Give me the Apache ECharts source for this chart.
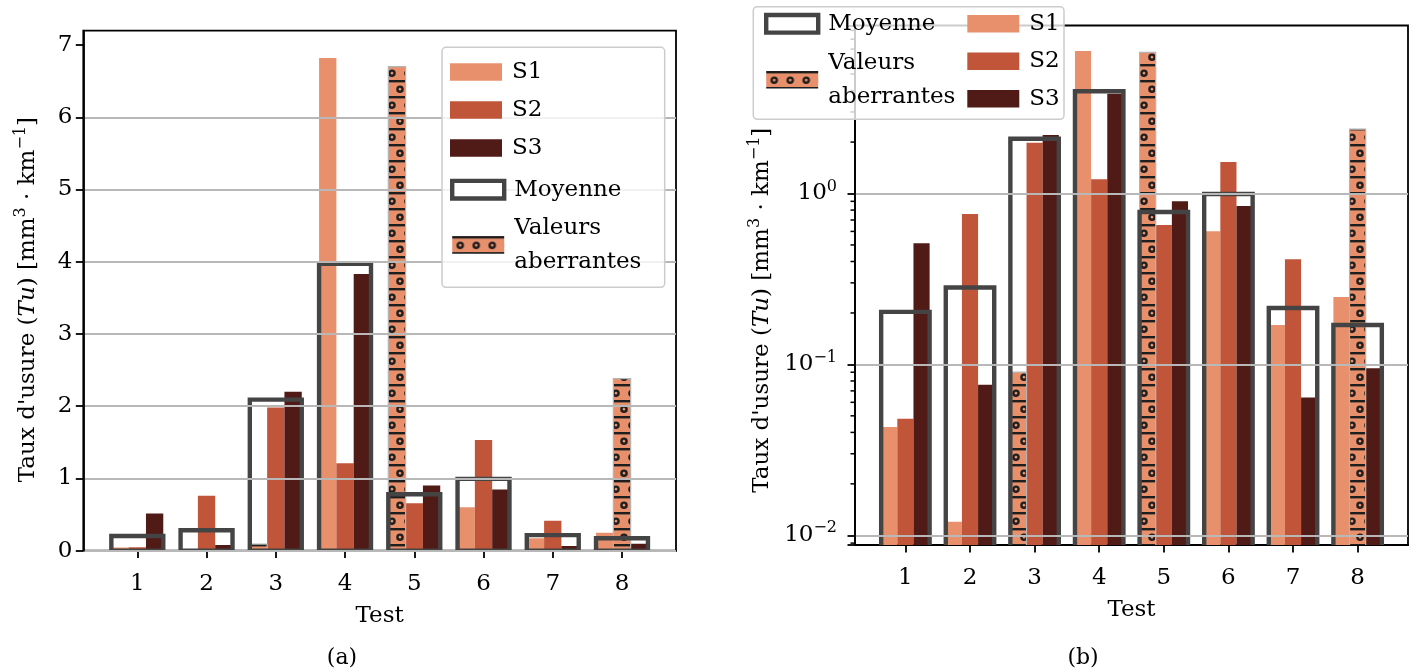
<!DOCTYPE html>
<html>
<head>
<meta charset="utf-8">
<script src="https://cdn.jsdelivr.net/npm/echarts@6/dist/echarts.min.js"></script>
<style>html,body{margin:0;padding:0;background:#fff}#c{width:1416px;height:671px}</style>
</head>
<body>
<div id="c"></div>
<script>
// ---------------- data ----------------
const tests = [1, 2, 3, 4, 5, 6, 7, 8];
const xTickLabels = ['1', '2', '3', '4', '5', '6', '7', '8'];
const linearTicks = [0, 1, 2, 3, 4, 5, 6, 7];
const logMinorTicks = [0.009, 0.02, 0.03, 0.04, 0.05, 0.06, 0.07, 0.08, 0.09,
                       0.2, 0.3, 0.4, 0.5, 0.6, 0.7, 0.8, 0.9,
                       2, 3, 4, 5, 6, 7, 8, 9];
const S1 = [0.043, 0.012, 0.090, 6.82, 6.70, 0.601, 0.170, 0.248];
const S2 = [0.048, 0.760, 1.98, 1.21, 0.655, 1.53, 0.413, 2.38];
const S3 = [0.512, 0.076, 2.20, 3.83, 0.900, 0.845, 0.064, 0.095];
const moyenne = [0.203, 0.282, 2.09, 3.97, 0.780, 0.993, 0.214, 0.170];
const outlierS1 = [false, false, true, false, true, false, false, false];
const outlierS2 = [false, false, false, false, false, false, false, true];
const outlierS3 = [false, false, false, false, false, false, false, false];

// ---------------- style / layout ----------------
const FONT = 'DejaVu Serif';
const FS = 23;
const COL = {S1: '#E8906C', S2: '#C0553A', S3: '#501A16', moy: '#444444', grid: '#b8b8b8'};
const BAR_W = 0.25;
const X_MIN = 0.22, X_MAX = 8.78;
const LIN_MAX = 7.2;
const LOG_MIN = 0.008773, LOG_MAX = 9.62;

function makeHatch() {
  const w = 16, h = 32;
  const c = document.createElement('canvas');
  c.width = w; c.height = h;
  const g = c.getContext('2d');
  g.fillStyle = COL.S1; g.fillRect(0, 0, w, h);
  g.fillStyle = '#1e1e1e';
  g.fillRect(0, 0, w, 2.4); g.fillRect(0, 16, w, 2.4);
  g.strokeStyle = '#1e1e1e'; g.lineWidth = 2.4;
  const ring = (x, y) => { g.beginPath(); g.arc(x, y, 2.6, 0, Math.PI * 2); g.stroke(); };
  ring(8, 9.2); ring(0, 25.2); ring(16, 25.2);
  return c;
}
const hatch = {image: makeHatch(), repeat: 'repeat'};

const sets = [
  {name: 'S1', vals: S1, out: outlierS1, k: 0, color: COL.S1},
  {name: 'S2', vals: S2, out: outlierS2, k: 1, color: COL.S2},
  {name: 'S3', vals: S3, out: outlierS3, k: 2, color: COL.S3}
];

function barItem(base, styleFn, extra) {
  return function (params, api) {
    const x = api.value(0), v = api.value(1), k = api.value(2);
    const cx = x + (k - 1) * BAR_W;
    const p0 = api.coord([cx - BAR_W / 2, v]);
    const p1 = api.coord([cx + BAR_W / 2, base]);
    return {type: 'rect', shape: {x: p0[0], y: p0[1], width: p1[0] - p0[0], height: p1[1] - p0[1] + (extra || 0)},
            style: styleFn(api)};
  };
}
function boxItem(base, extra) {
  return function (params, api) {
    const x = api.value(0), v = api.value(1);
    const p0 = api.coord([x - 1.5 * BAR_W, v]);
    const p1 = api.coord([x + 1.5 * BAR_W, base]);
    return {type: 'rect', shape: {x: p0[0], y: p0[1], width: p1[0] - p0[0], height: p1[1] - p0[1] + extra},
            style: {fill: 'rgba(0,0,0,0)', stroke: COL.moy, lineWidth: 4.4}};
  };
}

function seriesFor(g, base, extra) {
  const out = [];
  sets.forEach(s => {
    out.push({
      type: 'custom', name: s.name, xAxisIndex: g, yAxisIndex: g, clip: true, silent: true,
      itemStyle: {color: s.color},
      data: tests.map((t, i) => [t, s.vals[i], s.k]).filter((d, i) => !s.out[i]),
      renderItem: barItem(base, () => ({fill: s.color}), extra)
    });
  });
  const outData = [];
  sets.forEach(s => tests.forEach((t, i) => { if (s.out[i]) outData.push([t, s.vals[i], s.k]); }));
  out.push({
    type: 'custom', name: 'Valeurs aberrantes', xAxisIndex: g, yAxisIndex: g, clip: true, silent: true,
    itemStyle: {color: COL.S1},
    data: outData,
    renderItem: barItem(base, () => ({fill: hatch, stroke: '#b4b4b4', lineWidth: 1.2}), extra)
  });
  out.push({
    type: 'custom', name: 'Moyenne', xAxisIndex: g, yAxisIndex: g, clip: true, silent: true,
    itemStyle: {color: '#ffffff', borderColor: COL.moy},
    data: tests.map((t, i) => [t, moyenne[i]]),
    renderItem: boxItem(base, extra)
  });
  return out;
}

const txt = {fontFamily: FONT, fontSize: FS, color: '#000'};
const yName = "Taux d'usure ({i|Tu}) [mm{s|3} · km{s|−1}]";
const nameRich = {
  i: {fontFamily: FONT, fontSize: FS, fontStyle: 'italic', lineHeight: 30},
  s: {fontFamily: FONT, fontSize: 16, verticalAlign: 'top', lineHeight: 16}
};
const axLine = {show: true, onZero: false, lineStyle: {color: '#000', width: 1.8}};

function xAxisFor(g) {
  return {
    gridIndex: g, type: 'value', min: X_MIN, max: X_MAX, z: 1,
    name: 'Test', nameLocation: 'middle', nameGap: 54, nameTextStyle: txt,
    axisLine: axLine,
    axisTick: {show: true, length: 7.5, customValues: tests, lineStyle: {color: '#000', width: 1.8}},
    axisLabel: {customValues: tests, margin: 22, formatter: v => xTickLabels[tests.indexOf(v)], ...txt},
    splitLine: {show: false}
  };
}

const legendText = {...txt, lineHeight: 34, padding: [0, 0, 0, 5]};
const legItems = {
  S1: {name: 'S1', icon: 'rect', itemStyle: {color: COL.S1, borderWidth: 0}},
  S2: {name: 'S2', icon: 'rect', itemStyle: {color: COL.S2, borderWidth: 0}},
  S3: {name: 'S3', icon: 'rect', itemStyle: {color: COL.S3, borderWidth: 0}},
  Moy: {name: 'Moyenne', icon: 'rect', itemStyle: {color: '#ffffff', borderColor: COL.moy, borderWidth: 4.4}},
  Out: {name: 'Valeurs aberrantes', icon: 'rect', itemStyle: {color: hatch, borderWidth: 0}}
};
function legend(left, top, gap, items) {
  return {
    left: left, top: top, orient: 'vertical', padding: 0, itemGap: gap, itemWidth: 52, itemHeight: 17.6,
    z: 6, selectedMode: false, textStyle: legendText,
    formatter: n => n === 'Valeurs aberrantes' ? 'Valeurs\naberrantes' : n,
    data: items
  };
}

const option = {
  animation: false,
  backgroundColor: '#ffffff',
  textStyle: {fontFamily: FONT},
  grid: [
    {left: 83.3, top: 30.6, width: 592.7, height: 520, show: true, borderColor: '#000', borderWidth: 1.8, backgroundColor: 'rgba(0,0,0,0)'},
    {left: 855, top: 25.5, width: 553, height: 519.5, show: true, borderColor: '#000', borderWidth: 1.8, backgroundColor: 'rgba(0,0,0,0)'}
  ],
  xAxis: [xAxisFor(0), xAxisFor(1)],
  yAxis: [
    {
      gridIndex: 0, type: 'value', min: 0, max: LIN_MAX, interval: 1, z: 3,
      name: yName, nameLocation: 'middle', nameGap: 40, nameRotate: 90,
      nameTextStyle: {...txt, lineHeight: 30, padding: [0, 18, 0, 0], rich: nameRich},
      axisLine: axLine,
      axisTick: {show: true, length: 7.5, customValues: linearTicks, lineStyle: {color: '#000', width: 1.8}},
      axisLabel: {customValues: linearTicks, margin: 11, ...txt},
      splitLine: {show: true, showMinLine: true, showMaxLine: false, lineStyle: {color: COL.grid, width: 1.8}}
    },
    {
      gridIndex: 1, type: 'log', logBase: 10, min: LOG_MIN, max: LOG_MAX, z: 3,
      name: yName, nameLocation: 'middle', nameGap: 78, nameRotate: 90,
      nameTextStyle: {...txt, lineHeight: 30, padding: [0, 50, 0, 0], rich: nameRich},
      axisLine: axLine,
      axisTick: {show: true, length: 7.5, lineStyle: {color: '#000', width: 1.8}},
      axisLabel: {
        margin: 18, ...txt, lineHeight: 30,
        formatter: v => {
          const e = Math.log10(v), r = Math.round(e);
          if (Math.abs(e - r) > 1e-6) return '';
          return '10{s|' + (r < 0 ? '−' + (-r) : r) + '}';
        },
        rich: {s: {fontFamily: FONT, fontSize: 16, verticalAlign: 'top', lineHeight: 16}}
      },
      splitLine: {show: true, showMinLine: false, showMaxLine: false, lineStyle: {color: COL.grid, width: 1.8}}
    }
  ],
  legend: [
    legend(450, 55, 4, [legItems.S1, legItems.S2, legItems.S3]),
    legend(450, 172.7, 4.2, [legItems.Moy, legItems.Out]),
    legend(764, 6.8, 5, [legItems.Moy, legItems.Out]),
    legend(967.3, 6.8, 3.5, [legItems.S1, legItems.S2, legItems.S3])
  ],
  graphic: [
    {type: 'rect', z: 5, shape: {x: 442, y: 47.3, width: 222.7, height: 240, r: 4},
     style: {fill: 'rgba(255,255,255,0.8)', stroke: '#cccccc', lineWidth: 1.5}},
    {type: 'rect', z: 5, shape: {x: 753.3, y: 6.7, width: 310.7, height: 112.6, r: 4},
     style: {fill: 'rgba(255,255,255,0.8)', stroke: '#cccccc', lineWidth: 1.5}},
    {type: 'text', z: 5, x: 342, y: 658, style: {text: '(a)', font: '22px "DejaVu Serif"', fill: '#000', align: 'center', verticalAlign: 'middle'}},
    {type: 'text', z: 5, x: 1083, y: 658, style: {text: '(b)', font: '22px "DejaVu Serif"', fill: '#000', align: 'center', verticalAlign: 'middle'}}
  ],
  series: [
    ...seriesFor(0, 0, 0),
    ...seriesFor(1, LOG_MIN, 12),
    {
      type: 'custom', name: 'minor', xAxisIndex: 1, yAxisIndex: 1, clip: false, silent: true,
      data: logMinorTicks.map(v => [X_MIN, v]),
      renderItem: (params, api) => {
        const p = api.coord([api.value(0), api.value(1)]);
        return {type: 'line', shape: {x1: p[0] - 4.5, y1: p[1], x2: p[0], y2: p[1]}, style: {stroke: '#000', lineWidth: 1.5}};
      }
    }
  ]
};

const chart = echarts.init(document.getElementById('c'), null, {renderer: 'canvas'});
chart.setOption(option);
</script>
</body>
</html>
